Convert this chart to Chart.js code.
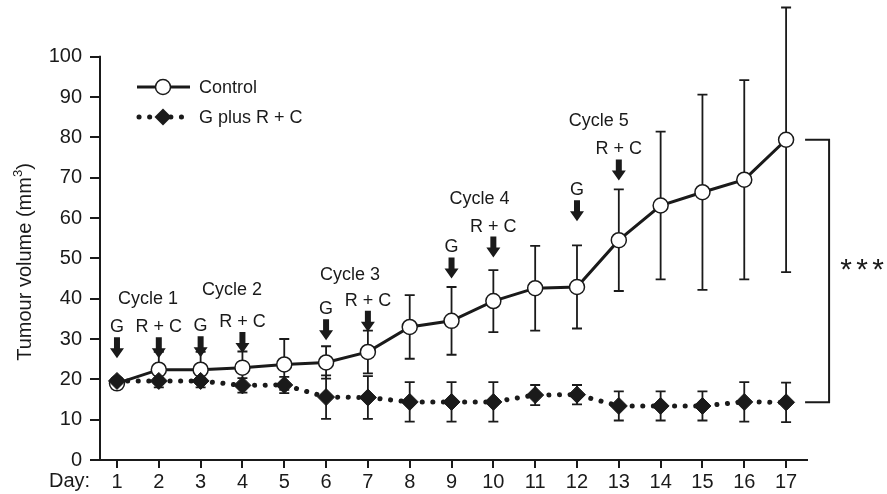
<!DOCTYPE html>
<html>
<head>
<meta charset="utf-8">
<script src="https://cdn.jsdelivr.net/npm/chart.js@4.4.1/dist/chart.umd.min.js"></script>
<style>
html,body{margin:0;padding:0;background:#fff;}
#wrap{width:887px;height:494px;}
</style>
</head>
<body>
<div id="wrap"><canvas id="chart" width="887" height="494"></canvas></div>
<script>
// data
const days=[1,2,3,4,5,6,7,8,9,10,11,12,13,14,15,16,17];
const control=[19.0,22.4,22.4,22.9,23.7,24.2,26.8,33.0,34.5,39.4,42.6,42.9,54.5,63.1,66.4,69.5,79.4];
const controlErr=[0.5,4.4,4.4,4.0,6.3,4.0,5.3,7.9,8.4,7.7,10.5,10.3,12.6,18.3,24.2,24.7,32.8];
const combo=[19.6,19.6,19.6,18.5,18.6,15.6,15.5,14.4,14.4,14.4,16.1,16.2,13.4,13.4,13.4,14.4,14.3];
const comboErr=[0.5,0.8,0.8,1.8,2.0,5.4,5.3,4.9,4.9,4.9,2.5,2.4,3.6,3.6,3.6,4.9,4.9];
const yTicks=[0,10,20,30,40,50,60,70,80,90,100];

// treatment arrows
const arrowDays=[1,2,3,4,6,7,9,10,12,13];
const arrowLabels=["G","R + C","G","R + C","G","R + C","G","R + C","G","R + C"];
const arrowTips=[25.2,25.2,25.5,26.5,29.7,31.8,45.0,50.2,59.2,69.3];
const cycleLabels=["Cycle 1","Cycle 2","Cycle 3","Cycle 4","Cycle 5"];
const cycleX=[1.74,3.75,6.57,9.67,12.52];
const cycleY=[39.9,42.1,45.8,64.8,84.0];

const FONT="'Liberation Sans', Arial, Helvetica, sans-serif";
const INK="#1a1a1a";
const pts=(vals)=>days.map((d,i)=>({x:d,y:vals[i]}));

function errBars(ctx,x,y,vals,errs){
  ctx.beginPath();
  vals.forEach((v,i)=>{
    const px=x.getPixelForValue(days[i]);
    const t=y.getPixelForValue(v+errs[i]), b=y.getPixelForValue(v-errs[i]);
    ctx.moveTo(px,t); ctx.lineTo(px,b);
    ctx.moveTo(px-5,t); ctx.lineTo(px+5,t);
    ctx.moveTo(px-5,b); ctx.lineTo(px+5,b);
  });
  ctx.stroke();
}

function arrow(ctx,px,tip){
  const len=21, head=10, hw=7, sw=3;
  ctx.beginPath();
  ctx.moveTo(px-sw,tip-len); ctx.lineTo(px+sw,tip-len); ctx.lineTo(px+sw,tip-head);
  ctx.lineTo(px+hw,tip-head); ctx.lineTo(px,tip); ctx.lineTo(px-hw,tip-head);
  ctx.lineTo(px-sw,tip-head); ctx.closePath(); ctx.fill();
}

const extras={
  id:"extras",
  beforeDatasetsDraw(chart){
    const {ctx,scales:{x,y}}=chart;
    ctx.save();
    ctx.strokeStyle=INK; ctx.lineWidth=2;
    ctx.beginPath();
    ctx.moveTo(x.left,y.getPixelForValue(0)+1);
    ctx.lineTo(x.left,y.getPixelForValue(100)-1);
    ctx.stroke();
    ctx.lineWidth=1.8;
    errBars(ctx,x,y,combo,comboErr);
    errBars(ctx,x,y,control,controlErr);
    ctx.restore();
  },
  afterDraw(chart){
    const {ctx,scales:{x,y}}=chart;
    ctx.save();
    ctx.fillStyle=INK; ctx.strokeStyle=INK;
    // arrows and labels
    ctx.textAlign="center"; ctx.textBaseline="middle";
    ctx.font="18px "+FONT;
    arrowDays.forEach((d,i)=>{
      const px=x.getPixelForValue(d), tip=y.getPixelForValue(arrowTips[i]);
      arrow(ctx,px,tip);
      ctx.fillText(arrowLabels[i],px,tip-31);
    });
    cycleLabels.forEach((t,i)=>ctx.fillText(t,x.getPixelForValue(cycleX[i]),y.getPixelForValue(cycleY[i])));

    // significance bracket
    const last=days.length-1;
    const bx=x.getPixelForValue(days[last]);
    const top=y.getPixelForValue(control[last]), bot=y.getPixelForValue(combo[last]);
    ctx.lineWidth=2;
    ctx.beginPath();
    ctx.moveTo(bx+19,top); ctx.lineTo(bx+43,top); ctx.lineTo(bx+43,bot); ctx.lineTo(bx+19,bot);
    ctx.stroke();
    ctx.font="30px "+FONT;
    const my=(top+bot)/2;
    [0,1,2].forEach(k=>ctx.fillText("*",bx+60+k*16,my));

    // legend
    const lx0=137,lx1=190,lcx=163;
    ctx.lineWidth=3; ctx.lineCap="butt";
    ctx.beginPath(); ctx.moveTo(lx0,87); ctx.lineTo(lx1,87); ctx.stroke();
    ctx.beginPath(); ctx.arc(lcx,87,7.5,0,Math.PI*2); ctx.fillStyle="#fff"; ctx.fill();
    ctx.lineWidth=1.5; ctx.stroke();
    ctx.fillStyle=INK;
    ctx.lineWidth=5; ctx.lineCap="round"; ctx.setLineDash([0.1,10.5]);
    ctx.beginPath(); ctx.moveTo(lx0+2,117); ctx.lineTo(lx1,117); ctx.stroke();
    ctx.setLineDash([]);
    ctx.beginPath(); ctx.moveTo(lcx,108.5); ctx.lineTo(lcx+8.5,117); ctx.lineTo(lcx,125.5); ctx.lineTo(lcx-8.5,117); ctx.closePath(); ctx.fill();
    ctx.font="18px "+FONT; ctx.textAlign="left";
    ctx.fillText("Control",199,88);
    ctx.fillText("G plus R + C",199,118);

    // Day: label
    ctx.font="20px "+FONT;
    ctx.fillText("Day:",49,481);

    // y axis title with superscript
    ctx.translate(25,262); ctx.rotate(-Math.PI/2);
    const main="Tumour volume (mm", sup="3", close=")";
    ctx.font="20px "+FONT; const w1=ctx.measureText(main).width, w3=ctx.measureText(close).width;
    ctx.font="13px "+FONT; const w2=ctx.measureText(sup).width;
    let sx=-(w1+w2+w3)/2;
    ctx.font="20px "+FONT; ctx.fillText(main,sx,0);
    ctx.font="13px "+FONT; ctx.fillText(sup,sx+w1,-7);
    ctx.font="20px "+FONT; ctx.fillText(close,sx+w1+w2,0);
    ctx.restore();
  }
};

new Chart(document.getElementById("chart"),{
  type:"line",
  data:{datasets:[
    {label:"Control",data:pts(control),order:1,borderColor:INK,borderWidth:3,tension:0,
     pointStyle:"circle",pointRadius:7.5,pointBackgroundColor:"#fff",pointBorderColor:INK,pointBorderWidth:1.5},
    {label:"G plus R + C",data:pts(combo),order:0,borderColor:INK,borderWidth:5,borderDash:[0.1,10.5],borderCapStyle:"round",tension:0,
     pointStyle:"rectRot",pointRadius:8.5,pointBackgroundColor:INK,pointBorderColor:INK,pointBorderWidth:1}
  ]},
  options:{
    responsive:false,animation:false,devicePixelRatio:1,
    layout:{padding:{left:0,right:80,top:2,bottom:0}},
    plugins:{legend:{display:false},tooltip:{enabled:false}},
    scales:{
      x:{type:"linear",min:0.594,max:17.5,
        afterBuildTicks:s=>{s.ticks=days.map(v=>({value:v}));},
        afterFit:s=>{s.height=34;s.paddingLeft=0;s.paddingRight=0;},
        grid:{drawOnChartArea:false,tickLength:8,color:INK,lineWidth:2},
        border:{display:true,color:INK,width:2},
        ticks:{color:INK,font:{family:FONT,size:20},padding:2,autoSkip:false,maxRotation:0}},
      y:{min:0,max:111.7,
        afterBuildTicks:s=>{s.ticks=yTicks.map(v=>({value:v}));},
        afterFit:s=>{s.width=100;s.paddingTop=0;s.paddingBottom=0;},
        grid:{drawOnChartArea:false,tickLength:10,color:INK,lineWidth:2},
        border:{display:false},
        ticks:{color:INK,font:{family:FONT,size:20},padding:8}}
    }
  },
  plugins:[extras]
});
</script>
</body>
</html>
